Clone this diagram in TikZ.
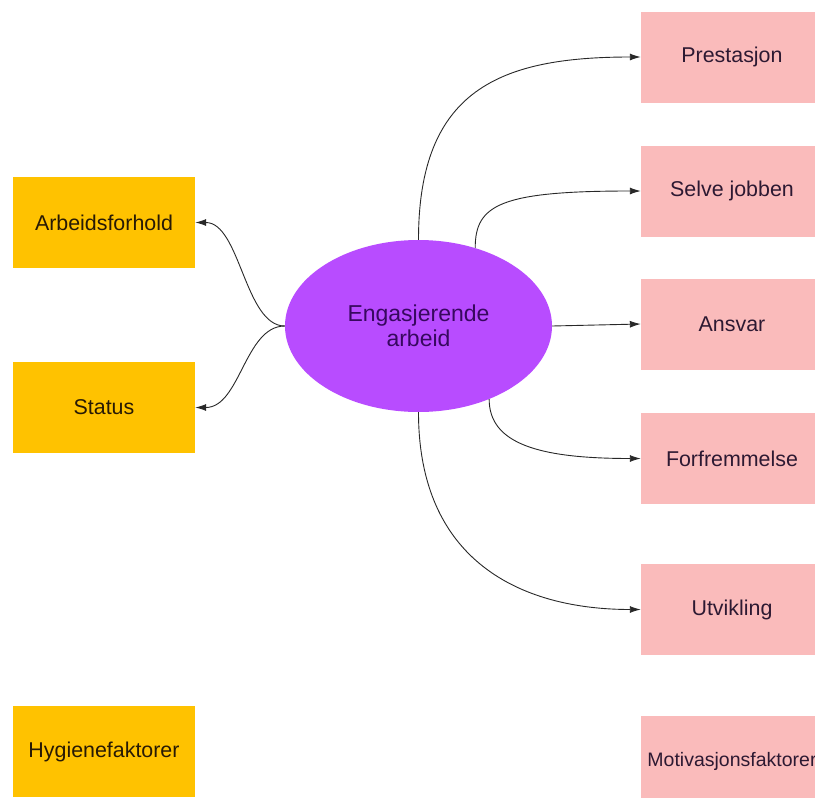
\documentclass[tikz,border=0pt]{standalone}
\usepackage{fontspec}
\setmainfont{Liberation Sans}
\usetikzlibrary{shapes.geometric,arrows.meta}

\definecolor{hygiene}{RGB}{255,194,0}
\definecolor{motiv}{RGB}{250,187,187}
\definecolor{core}{RGB}{184,76,255}
\definecolor{hygtext}{RGB}{40,26,5}
\definecolor{mottext}{RGB}{45,25,50}
\definecolor{coretext}{RGB}{55,8,95}
\definecolor{wire}{RGB}{40,40,40}

\tikzset{
  factor/.style={rectangle, minimum width=182pt, minimum height=91pt,
    inner sep=0pt, font=\fontsize{21.4}{26}\selectfont},
  hyg/.style={factor, fill=hygiene, text=hygtext},
  mot/.style={factor, fill=motiv, text=mottext},
  hub/.style={ellipse, fill=core, text=coretext, minimum width=267pt,
    minimum height=172pt, inner sep=0pt, align=center,
    font=\fontsize{23}{25.5}\selectfont},
  link/.style={draw=wire, line width=0.9pt,
    -{Latex[length=11pt,width=7pt]}}
}

\begin{document}
\begin{tikzpicture}[x=1pt,y=-1pt]
  \useasboundingbox (0,0) rectangle (815,798);

  % central theme
  \node[hub] (ell) at (418.5,326) {Engasjerende\\arbeid};

  % hygiene factors (left column)
  \node[hyg] (arb) at (104,222.5) {Arbeidsforhold};
  \node[hyg] (sta) at (104,407.5) {Status};
  \node[hyg] (hyg) at (104,751.5) {Hygienefaktorer};

  % motivation factors (right column)
  \node[mot] (pre) at (732,57) {Prestasjon};
  \node[mot] (sel) at (732,191) {Selve jobben};
  \node[mot] (ans) at (732,324) {Ansvar};
  \node[mot] (for) at (732,458.5) {Forfremmelse};
  \node[mot] (utv) at (732,609.5) {Utvikling};
  \node[mot, font=\fontsize{19.5}{24}\selectfont] (mot) at (732,761.5) {Motivasjonsfaktorer};

  % connectors
  \draw[link] (ell.west) .. controls +(-40,0) and +(45,0) .. (arb.east);
  \draw[link] (ell.west) .. controls +(-40,0) and +(45,0) .. (sta.east);
  \draw[link] (ell.north) .. controls +(0,-150) and +(-141,0) .. (pre.west);
  \draw[link] (ell.54) .. controls +(0,-43) and +(-141,0) .. (sel.west);
  \draw[link] (ell.east) -- (ans.west);
  \draw[link] (ell.-46) .. controls +(0,45) and +(-101,0) .. (for.west);
  \draw[link] (ell.south) .. controls +(0,148) and +(-121,0) .. (utv.west);
\end{tikzpicture}
\end{document}
